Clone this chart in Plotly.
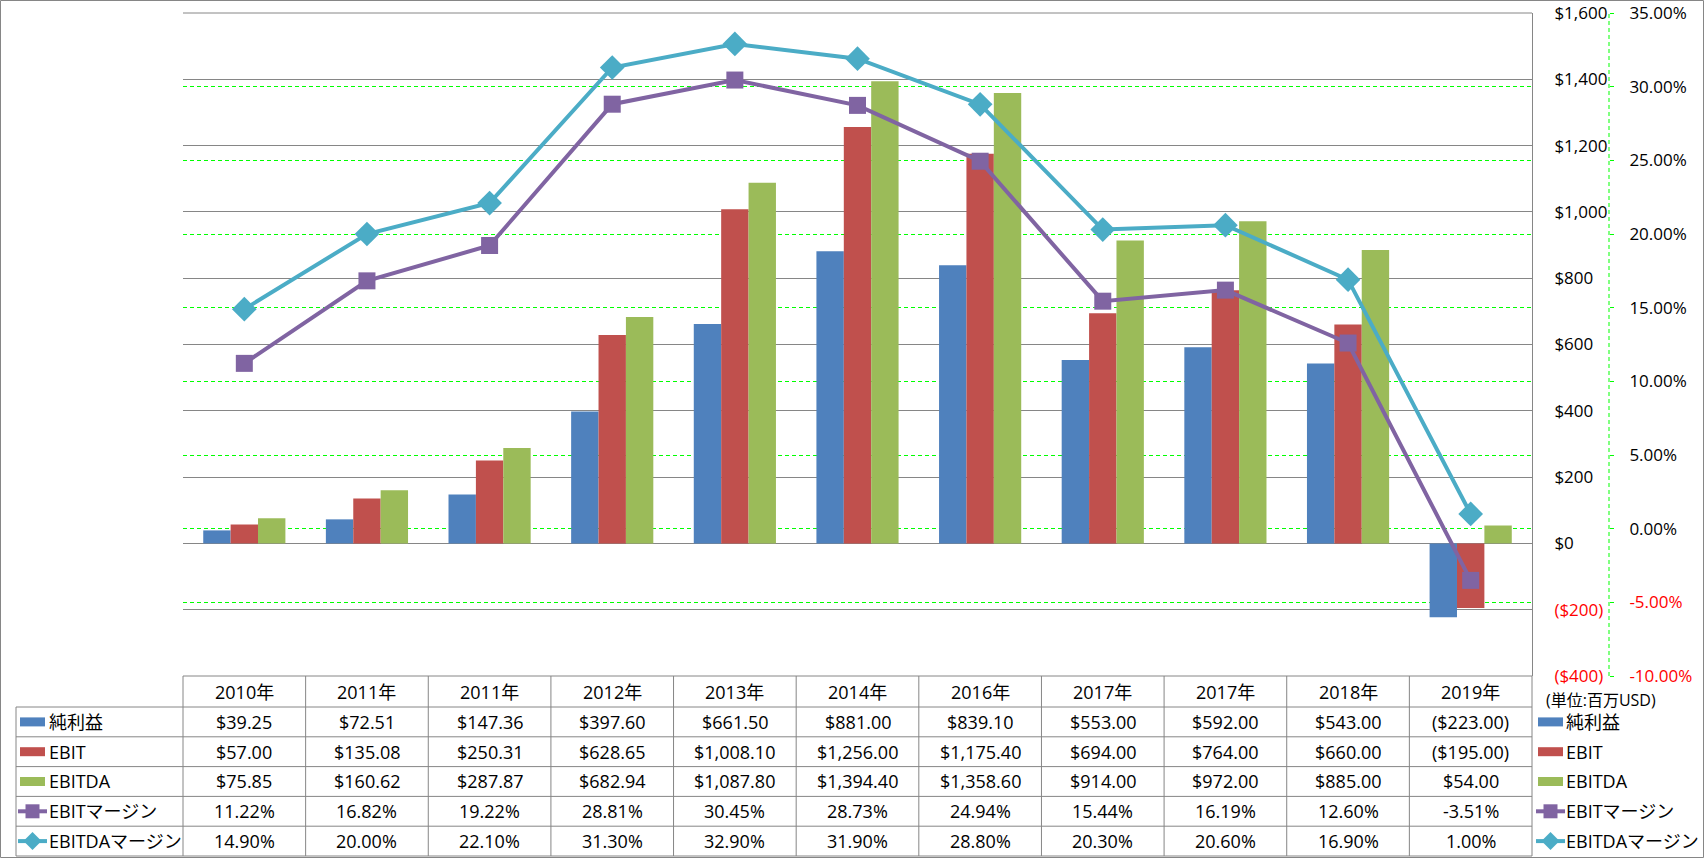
import plotly.graph_objects as go

# ---------------- data ----------------
categories = ["2010年", "2011年", "2011年", "2012年", "2013年", "2014年",
              "2016年", "2017年", "2017年", "2018年", "2019年"]
net_income = [39.25, 72.51, 147.36, 397.60, 661.50, 881.00, 839.10, 553.00, 592.00, 543.00, -223.00]
ebit = [57.00, 135.08, 250.31, 628.65, 1008.10, 1256.00, 1175.40, 694.00, 764.00, 660.00, -195.00]
ebitda = [75.85, 160.62, 287.87, 682.94, 1087.80, 1394.40, 1358.60, 914.00, 972.00, 885.00, 54.00]
ebit_margin = [11.22, 16.82, 19.22, 28.81, 30.45, 28.73, 24.94, 15.44, 16.19, 12.60, -3.51]
ebitda_margin = [14.90, 20.00, 22.10, 31.30, 32.90, 31.90, 28.80, 20.30, 20.60, 16.90, 1.00]

series_names = ["純利益", "EBIT", "EBITDA", "EBITマージン", "EBITDAマージン"]
usd_ticks = [-400, -200, 0, 200, 400, 600, 800, 1000, 1200, 1400, 1600]
pct_ticks = [-10, -5, 0, 5, 10, 15, 20, 25, 30, 35]
unit_label = "(単位:百万USD)"

# ---------------- style ----------------
C_BLUE, C_RED, C_GREEN = "#4F81BD", "#C0504D", "#9BBB59"
C_PURPLE, C_CYAN = "#8064A2", "#4BACC6"
GRID = "#868686"
LIME = "#00FF00"
FONT = "Open Sans, Noto Sans CJK JP, sans-serif"
FS_TICK = 17
FS_TAB = 18

W_FIG, H_FIG = 1704, 858
PL, PR, PT, PB = 183, 1532, 13, 676   # plot area in pixels
AX2 = 1609                             # secondary axis line position (pixels)
PW, PH = AX2 - PL, PB - PT
n = len(categories)


def fx(px):
    return (px - PL) / PW


def fy(py):
    return (PB - py) / PH


def money(v, dec=2):
    s = f"${abs(v):,.{dec}f}"
    return f"({s})" if v < 0 else s


def pct(v):
    return f"{v:.2f}%"


def red_if_neg(v, s):
    return f'<span style="color:#FF0000">{s}</span>' if v < 0 else s


x = list(range(n))
fig = go.Figure()
fig.add_trace(go.Bar(x=x, y=net_income, name=series_names[0], marker=dict(color=C_BLUE, line=dict(width=0))))
fig.add_trace(go.Bar(x=x, y=ebit, name=series_names[1], marker=dict(color=C_RED, line=dict(width=0))))
fig.add_trace(go.Bar(x=x, y=ebitda, name=series_names[2], marker=dict(color=C_GREEN, line=dict(width=0))))
fig.add_trace(go.Scatter(x=x, y=ebit_margin, name=series_names[3], yaxis="y2", mode="lines+markers",
                         line=dict(color=C_PURPLE, width=4),
                         marker=dict(symbol="square", size=17, color=C_PURPLE)))
fig.add_trace(go.Scatter(x=x, y=ebitda_margin, name=series_names[4], yaxis="y2", mode="lines+markers",
                         line=dict(color=C_CYAN, width=4),
                         marker=dict(symbol="diamond", size=19, color=C_CYAN)))

x_dom_end = fx(PR)

shapes = []
annotations = []

# outer chart border
shapes.append(dict(type="rect", xref="paper", yref="paper", x0=fx(0.5), x1=fx(W_FIG - 0.5),
                   y0=fy(0.5), y1=fy(H_FIG - 0.5), line=dict(color=GRID, width=1)))
# top edge of plot area (gridline at the maximum)
shapes.append(dict(type="line", xref="paper", yref="paper", x0=0, x1=x_dom_end, y0=1, y1=1,
                   line=dict(color=GRID, width=1), layer="below"))
# secondary axis dashed line
shapes.append(dict(type="line", xref="paper", yref="paper", x0=1, x1=1, y0=0, y1=1,
                   line=dict(color=LIME, width=1, dash="4px,3px")))

# ---------------- data table ----------------
HEAD_TOP, HEAD_BOT = 676, 707
ROW_H = (856 - HEAD_BOT) / 5
row_b = [HEAD_BOT + k * ROW_H for k in range(6)]
LEG_L = 16


def col_edge(k):
    return x_dom_end * k / n


def col_center(i):
    return x_dom_end * (i + 0.5) / n


line_style = dict(color=GRID, width=1)
shapes.append(dict(type="line", xref="paper", yref="paper", x0=0, x1=x_dom_end,
                   y0=fy(HEAD_TOP), y1=fy(HEAD_TOP), line=line_style))
for yb in row_b:
    shapes.append(dict(type="line", xref="paper", yref="paper", x0=fx(LEG_L), x1=x_dom_end,
                       y0=fy(yb), y1=fy(yb), line=line_style))
for k in range(n + 1):
    shapes.append(dict(type="line", xref="paper", yref="paper", x0=col_edge(k), x1=col_edge(k),
                       y0=fy(HEAD_TOP), y1=fy(row_b[-1]), line=line_style))
shapes.append(dict(type="line", xref="paper", yref="paper", x0=fx(LEG_L), x1=fx(LEG_L),
                   y0=fy(HEAD_BOT), y1=fy(row_b[-1]), line=line_style))

txt_font = dict(family=FONT, size=FS_TAB, color="black")
for i, c in enumerate(categories):
    annotations.append(dict(xref="paper", yref="paper", x=col_center(i), y=fy((HEAD_TOP + HEAD_BOT) / 2),
                            text=c, showarrow=False, font=txt_font, xanchor="center", yanchor="middle"))

rows = [[money(v) for v in net_income], [money(v) for v in ebit], [money(v) for v in ebitda],
        [pct(v) for v in ebit_margin], [pct(v) for v in ebitda_margin]]
for r, vals in enumerate(rows):
    yc = (row_b[r] + row_b[r + 1]) / 2
    for i, s in enumerate(vals):
        annotations.append(dict(xref="paper", yref="paper", x=col_center(i), y=fy(yc), text=s,
                                showarrow=False, font=txt_font, xanchor="center", yanchor="middle"))

# legend keys (left inside table and right of table)
key_colors = [C_BLUE, C_RED, C_GREEN, C_PURPLE, C_CYAN]


def add_key(r, kx, tx):
    yc = (row_b[r] + row_b[r + 1]) / 2
    col = key_colors[r]
    if r < 3:
        shapes.append(dict(type="rect", xref="paper", yref="paper", x0=fx(kx), x1=fx(kx + 25),
                           y0=fy(yc - 4.5), y1=fy(yc + 4.5), fillcolor=col, line=dict(width=0)))
    else:
        cx = kx + 12.5
        shapes.append(dict(type="line", xref="paper", yref="paper", x0=fx(kx - 2), x1=fx(kx + 27),
                           y0=fy(yc), y1=fy(yc), line=dict(color=col, width=4)))
        if r == 3:
            h = 7
            shapes.append(dict(type="rect", xref="paper", yref="paper", x0=fx(cx - h), x1=fx(cx + h),
                               y0=fy(yc - h), y1=fy(yc + h), fillcolor=col, line=dict(width=0)))
        else:
            h = 9
            path = (f"M {fx(cx)},{fy(yc - h)} L {fx(cx + h)},{fy(yc)} "
                    f"L {fx(cx)},{fy(yc + h)} L {fx(cx - h)},{fy(yc)} Z")
            shapes.append(dict(type="path", xref="paper", yref="paper", path=path,
                               fillcolor=col, line=dict(width=0)))
    annotations.append(dict(xref="paper", yref="paper", x=fx(tx), y=fy(yc), text=series_names[r],
                            showarrow=False, font=txt_font, xanchor="left", yanchor="middle"))


for r in range(5):
    add_key(r, 20, 47)
    add_key(r, 1538, 1564)

annotations.append(dict(xref="paper", yref="paper", x=fx(1545), y=fy(688), text=unit_label,
                        showarrow=False, font=dict(family=FONT, size=16, color="black"),
                        xanchor="left", yanchor="top", borderpad=0))

usd_text = [red_if_neg(v, money(v, 0)) for v in usd_ticks]
pct_text = [red_if_neg(v, pct(v)) for v in pct_ticks]

fig.update_layout(
    width=W_FIG, height=H_FIG, autosize=False,
    margin=dict(l=PL, r=W_FIG - AX2, t=PT, b=H_FIG - PB, pad=0, autoexpand=False),
    paper_bgcolor="white", plot_bgcolor="white",
    font=dict(family=FONT, size=FS_TICK, color="black"),
    showlegend=False,
    barmode="group", bargap=0.33, bargroupgap=0,
    xaxis=dict(domain=[0, x_dom_end], range=[-0.5, n - 0.5], showticklabels=False, showgrid=False,
               zeroline=False, showline=False, ticks="", automargin=False),
    yaxis=dict(range=[usd_ticks[0], usd_ticks[-1]], side="right", tickmode="array",
               tickvals=usd_ticks, ticktext=usd_text, showgrid=True, gridcolor=GRID, gridwidth=1,
               zeroline=False, showline=True, linecolor=GRID, linewidth=1, ticks="",
               ticklabelstandoff=18, automargin=False,
               tickfont=dict(family=FONT, size=FS_TICK, color="black")),
    yaxis2=dict(range=[pct_ticks[0], pct_ticks[-1]], overlaying="y", side="right", anchor="free",
                position=1.0, tickmode="array", tickvals=pct_ticks, ticktext=pct_text,
                showgrid=True, gridcolor=LIME, gridwidth=1, griddash="4px,3px", zeroline=False,
                showline=False, ticks="outside", ticklen=4, tickcolor=LIME, tickwidth=1,
                ticklabelstandoff=12, automargin=False,
                tickfont=dict(family=FONT, size=FS_TICK, color="black")),
    shapes=shapes,
    annotations=annotations,
)

fig.write_html("out.html", config={"displayModeBar": False},
               post_script="document.body.style.margin='0px';document.body.style.overflow='hidden';")
